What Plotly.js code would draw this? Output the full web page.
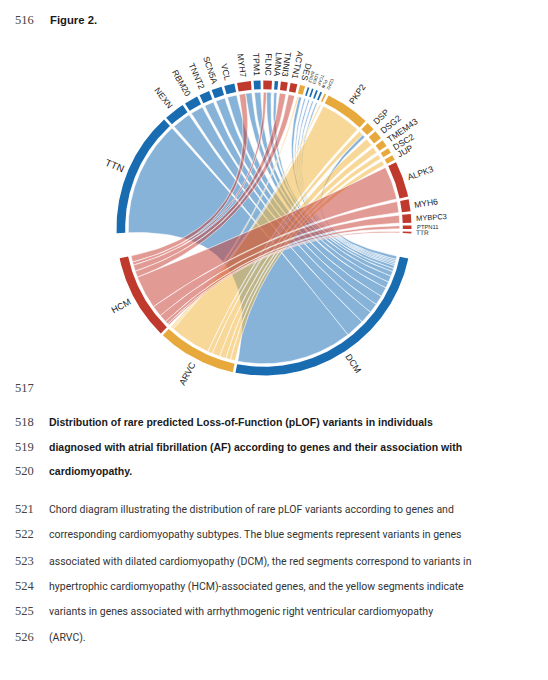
<!DOCTYPE html>
<html><head><meta charset="utf-8">
<script src="https://cdn.plot.ly/plotly-3.0.1.min.js"></script>
<style>html,body{margin:0;padding:0;background:#fff;} #chart{width:548px;height:680px;}</style>
</head><body><div id="chart"></div>
<script>
// ---------------- DATA ----------------
const genes = ["TTN","NEXN","RBM20","TNNT2","SCN5A","VCL","MYH7","TPM1","FLNC","LMNA","TNNI3","ACTN1","DES","BAG3","LDB3","TCAP","PLN","CDH2","PKP2","DSP","DSG2","TMEM43","DSC2","JUP","ALPK3","MYH6","MYBPC3","PTPN11","TTR"];
const geneGroup = ["DCM","DCM","DCM","DCM","DCM","DCM","HCM","DCM","HCM","DCM","HCM","HCM","ARVC","DCM","DCM","DCM","DCM","ARVC","ARVC","ARVC","ARVC","ARVC","ARVC","ARVC","HCM","HCM","HCM","HCM","HCM"];
const categories = ["DCM","ARVC","HCM"];
// pLOF variant counts per gene linked to each cardiomyopathy
const toDCM  = [73,12,8,6,6,6,4,4,3,2,0,0,2,1,1,1,1,0,0,2,0,0,0,0,0,0,0,0,0];
const toARVC = [0,0,0,0,0,0,0,0,0,0,0,0,1,0,0,0,0,1,26,3,5,4,3,3,0,0,0,0,0];
const toHCM  = [0,0,0,0,0,0,4,0,2,0,4,4,0,0,0,0,0,0,0,0,0,0,0,0,21,7,5,2,1];

const lineNumbers = ["516","517","518","519","520","521","522","523","524","525","526"];
const figureLabel = "Figure 2.";
const captionBold = [
  "Distribution of rare predicted Loss-of-Function (pLOF) variants in individuals",
  "diagnosed with atrial fibrillation (AF) according to genes and their association with",
  "cardiomyopathy."
];
const captionText = [
  "Chord diagram illustrating the distribution of rare pLOF variants according to genes and",
  "corresponding cardiomyopathy subtypes. The blue segments represent variants in genes",
  "associated with dilated cardiomyopathy (DCM), the red segments correspond to variants in",
  "hypertrophic cardiomyopathy (HCM)-associated genes, and the yellow segments indicate",
  "variants in genes associated with arrhythmogenic right ventricular cardiomyopathy",
  "(ARVC)."
];

// ---------------- STYLE ----------------
const ringColor = {DCM:"#1a6cb1", ARVC:"#e7a93b", HCM:"#bf392d"};
const chordColor = {DCM:"rgba(28,112,184,0.53)", ARVC:"rgba(242,182,62,0.53)", HCM:"rgba(200,62,52,0.52)"};
const labelSize = {TTN:10, MYBPC3:7.5, PTPN11:5.8, TTR:6.5, BAG3:4.3, LDB3:4.3, TCAP:4.3, PLN:4.3, CDH2:4.3};
const cx = 264, cy = 228, R_OUT = 147.5, R_IN = 138.8, R_CHORD = 135.8, R_LABEL = 152.5;
const START = 182, GAP = 1.07, BIG_GAP = 9.8;
const LABEL_FONT = "Liberation Sans";

// ---------------- LAYOUT COMPUTATION ----------------
const matrix = [toDCM, toARVC, toHCM];
const geneTot = genes.map((g,i)=>toDCM[i]+toARVC[i]+toHCM[i]);
const catTot = matrix.map(a=>a.reduce((p,c)=>p+c,0));
const total = geneTot.reduce((p,c)=>p+c,0);
const nGaps = (genes.length-1) + (categories.length-1);
const s = (360 - nGaps*GAP - 2*BIG_GAP) / (2*total);

let a = START;
const geneSec = genes.map((g,i)=>{ const st=a, en=a-geneTot[i]*s; a = en-GAP; return [st,en]; });
a = geneSec[genes.length-1][1] - BIG_GAP;
const catSec = categories.map((c,k)=>{ const st=a, en=a-catTot[k]*s; a = en-GAP; return [st,en]; });

const links = [];
for(let i=0;i<genes.length;i++){
  let cur = geneSec[i][0];
  for(let k=categories.length-1;k>=0;k--){
    const v = matrix[k][i];
    if(v>0){ links.push({i,k,v,src:[cur,cur-v*s]}); cur -= v*s; }
  }
}
for(let k=0;k<categories.length;k++){
  let cur = catSec[k][0];
  for(let i=genes.length-1;i>=0;i--){
    const L = links.find(l=>l.i===i && l.k===k);
    if(L){ L.tgt=[cur,cur-L.v*s]; cur -= L.v*s; }
  }
}

const rad = d=>d*Math.PI/180;
const px = (r,d)=>cx + r*Math.cos(rad(d));
const py = (r,d)=>cy - r*Math.sin(rad(d));
function arc(r,a1,a2,X,Y){
  const n = Math.max(2, Math.ceil(Math.abs(a1-a2)/0.5));
  for(let j=0;j<=n;j++){ const d=a1+(a2-a1)*j/n; X.push(px(r,d)); Y.push(py(r,d)); }
}
function bez(r,a1,a2,X,Y){
  const x0=px(r,a1), y0=py(r,a1), x1=px(r,a2), y1=py(r,a2);
  const n=40;
  for(let j=1;j<n;j++){ const t=j/n; X.push((1-t)*(1-t)*x0+2*(1-t)*t*cx+t*t*x1); Y.push((1-t)*(1-t)*y0+2*(1-t)*t*cy+t*t*y1); }
}

const traces = [];
for(let k=0;k<categories.length;k++){
  links.filter(l=>l.k===k).forEach(l=>{
    const X=[],Y=[];
    arc(R_CHORD,l.src[0],l.src[1],X,Y);
    bez(R_CHORD,l.src[1],l.tgt[0],X,Y);
    arc(R_CHORD,l.tgt[0],l.tgt[1],X,Y);
    bez(R_CHORD,l.tgt[1],l.src[0],X,Y);
    X.push(X[0]); Y.push(Y[0]);
    traces.push({type:"scatter",mode:"lines",x:X,y:Y,fill:"toself",fillcolor:chordColor[categories[k]],
      line:{color:"rgba(255,255,255,0.85)",width:0.7},hoverinfo:"skip"});
  });
}
function ringSeg(st,en,color){
  const X=[],Y=[];
  arc(R_OUT,st,en,X,Y); arc(R_IN,en,st,X,Y); X.push(X[0]); Y.push(Y[0]);
  traces.push({type:"scatter",mode:"lines",x:X,y:Y,fill:"toself",fillcolor:color,line:{width:0,color:color},hoverinfo:"skip"});
}
genes.forEach((g,i)=>ringSeg(geneSec[i][0],geneSec[i][1],ringColor[geneGroup[i]]));
categories.forEach((c,k)=>ringSeg(catSec[k][0],catSec[k][1],ringColor[c]));

// ---------------- LABELS ----------------
const ctx = document.createElement("canvas").getContext("2d");
function tw(t,size,font,weight){ ctx.font=(weight||"normal")+" "+size+"px \""+font+"\""; return ctx.measureText(t).width; }
const annotations = [];
function radialLabel(text,mid,size){
  let m = ((mid%360)+360)%360;
  let ang;
  if(m>65 && m<270) ang = 180-m; else { ang = -(m>180?m-360:m); }
  const w = tw(text,size,LABEL_FONT);
  const r = R_LABEL + w/2;
  annotations.push({x:px(r,m),y:py(r,m),xref:"x",yref:"y",text:text,showarrow:false,textangle:ang,
    xanchor:"center",yanchor:"middle",font:{family:LABEL_FONT,size:size,color:"#1e1e1e"}});
}
genes.forEach((g,i)=>radialLabel(g,(geneSec[i][0]+geneSec[i][1])/2,labelSize[g]||8.6));
categories.forEach((c,k)=>radialLabel(c,(catSec[k][0]+catSec[k][1])/2,9));

// page text
const numFont = {family:"Liberation Serif",size:12.5,color:"#444"};
const numY = [20,388,422,447,471,509,534,561,586,611,637];
lineNumbers.forEach((t,j)=>annotations.push({x:13,y:numY[j],xref:"x",yref:"y",text:t,showarrow:false,xanchor:"left",yanchor:"middle",font:numFont}));
annotations.push({x:48,y:20,xref:"x",yref:"y",text:"<b>"+figureLabel+"</b>",showarrow:false,xanchor:"left",yanchor:"middle",font:{family:"Liberation Sans",size:11.3,color:"#1a1a1a"}});
captionBold.forEach((t,j)=>annotations.push({x:47,y:numY[2+j],xref:"x",yref:"y",text:"<b>"+t+"</b>",showarrow:false,xanchor:"left",yanchor:"middle",font:{family:"Liberation Sans",size:10.5,color:"#1a1a1a"}}));
captionText.forEach((t,j)=>annotations.push({x:47,y:numY[5+j],xref:"x",yref:"y",text:t,showarrow:false,xanchor:"left",yanchor:"middle",font:{family:"Roboto",size:10.5,color:"#333"}}));

const layout = {
  width:548,height:680,margin:{l:0,r:0,t:0,b:0},showlegend:false,
  paper_bgcolor:"#fff",plot_bgcolor:"#fff",
  xaxis:{range:[0,548],visible:false,fixedrange:true},
  yaxis:{range:[680,0],visible:false,fixedrange:true},
  annotations:annotations
};
Plotly.newPlot("chart",traces,layout,{staticPlot:true,displayModeBar:false});
</script></body></html>
